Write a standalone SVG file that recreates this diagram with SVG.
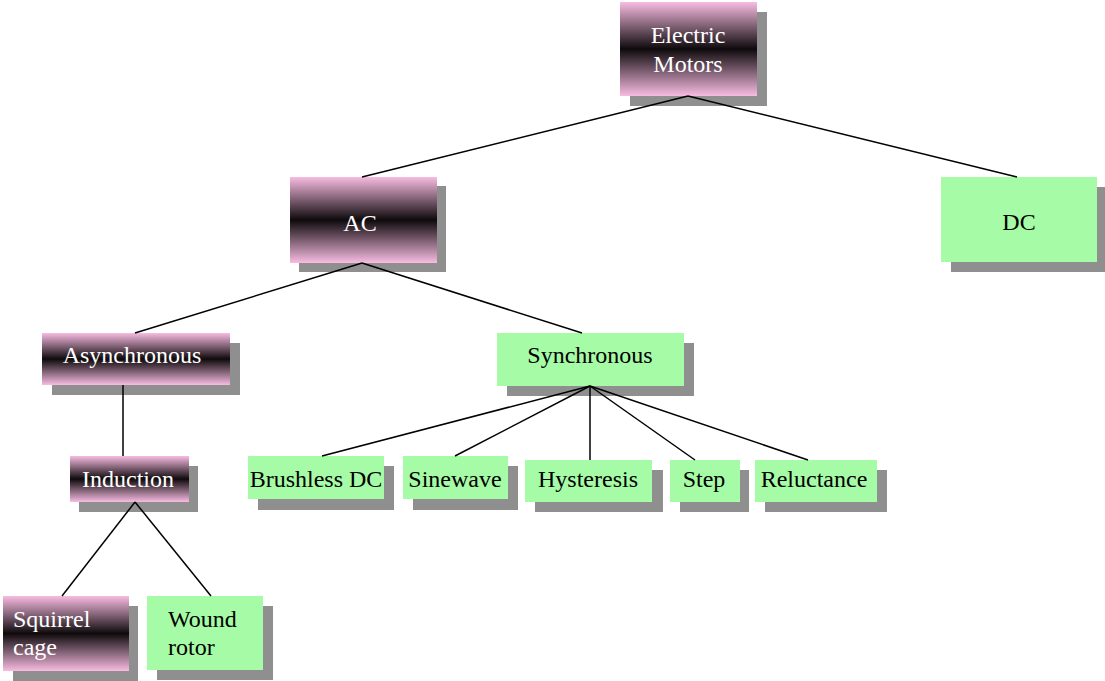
<svg xmlns="http://www.w3.org/2000/svg" width="1105" height="681" viewBox="0 0 1105 681" font-family="'Liberation Serif', 'Times New Roman', Times, serif" font-size="24">
<defs>
<linearGradient id="pk" x1="0" y1="0" x2="0" y2="1">
<stop offset="0" stop-color="#f8bce2"/>
<stop offset="0.5" stop-color="#0e0a0c"/>
<stop offset="1" stop-color="#f8bce2"/>
</linearGradient>
</defs>
<style>
.sh{fill:#8f8f8f}
.pk{fill:url(#pk)}
.gr{fill:#a6fca6}
.w{fill:#ffffff}
.b{fill:#000000}
.c{text-anchor:middle}
#connectors line{stroke:#000;stroke-width:1.5}
</style>
<rect width="1105" height="681" fill="#ffffff"/>
<g id="electric-motors">
<rect class="sh" x="630" y="12" width="137" height="94"/>
<rect class="pk" x="620" y="2" width="137" height="94"/>
<text class="w c" x="688" y="43">Electric</text>
<text class="w c" x="688" y="72">Motors</text>
</g>
<g id="ac">
<rect class="sh" x="299" y="186" width="147" height="86"/>
<rect class="pk" x="290" y="177" width="147" height="86"/>
<text class="w c" x="360" y="231">AC</text>
</g>
<g id="dc">
<rect class="sh" x="951" y="187" width="154" height="85"/>
<rect class="gr" x="941" y="177" width="156" height="85"/>
<text class="b c" x="1019" y="230">DC</text>
</g>
<g id="asynchronous">
<rect class="sh" x="52" y="343" width="188" height="52"/>
<rect class="pk" x="42" y="333" width="188" height="52"/>
<text class="w c" x="132" y="363">Asynchronous</text>
</g>
<g id="synchronous">
<rect class="sh" x="507" y="343" width="187" height="53"/>
<rect class="gr" x="497" y="333" width="187" height="53"/>
<text class="b c" x="590" y="363">Synchronous</text>
</g>
<g id="induction">
<rect class="sh" x="79" y="466" width="119" height="46"/>
<rect class="pk" x="70" y="456" width="119" height="46"/>
<text class="w c" x="128" y="487">Induction</text>
</g>
<g id="brushless-dc">
<rect class="sh" x="258" y="466" width="136" height="44"/>
<rect class="gr" x="248" y="456" width="136" height="43"/>
<text class="b c" x="316" y="487">Brushless DC</text>
</g>
<g id="sinewave">
<rect class="sh" x="413" y="466" width="105" height="44"/>
<rect class="gr" x="403" y="456" width="105" height="43"/>
<text class="b c" x="455" y="487">Sinewave</text>
</g>
<g id="hysteresis">
<rect class="sh" x="535" y="470" width="128" height="42"/>
<rect class="gr" x="525" y="460" width="127" height="42"/>
<text class="b c" x="588" y="487">Hysteresis</text>
</g>
<g id="step">
<rect class="sh" x="680" y="470" width="69" height="42"/>
<rect class="gr" x="670" y="460" width="70" height="42"/>
<text class="b c" x="704" y="487">Step</text>
</g>
<g id="reluctance">
<rect class="sh" x="765" y="470" width="122" height="42"/>
<rect class="gr" x="755" y="460" width="122" height="42"/>
<text class="b c" x="814" y="487">Reluctance</text>
</g>
<g id="squirrel-cage">
<rect class="sh" x="13" y="606" width="125" height="75"/>
<rect class="pk" x="3" y="596" width="126" height="75"/>
<text class="w" x="13" y="627">Squirrel</text>
<text class="w" x="13" y="655">cage</text>
</g>
<g id="wound-rotor">
<rect class="sh" x="157" y="606" width="116" height="74"/>
<rect class="gr" x="147" y="596" width="116" height="74"/>
<text class="b" x="168" y="627">Wound</text>
<text class="b" x="168" y="655">rotor</text>
</g>
<g id="connectors">
<line x1="688" y1="96" x2="362" y2="177"/>
<line x1="688" y1="96" x2="1017" y2="177"/>
<line x1="362" y1="263" x2="135" y2="333"/>
<line x1="362" y1="263" x2="582" y2="333"/>
<line x1="123" y1="385" x2="123" y2="456"/>
<line x1="590" y1="386" x2="322" y2="456"/>
<line x1="590" y1="386" x2="455" y2="456"/>
<line x1="590" y1="386" x2="590" y2="460"/>
<line x1="590" y1="386" x2="695" y2="460"/>
<line x1="590" y1="386" x2="808" y2="460"/>
<line x1="135" y1="502" x2="62" y2="596"/>
<line x1="135" y1="502" x2="211" y2="596"/>
</g>
</svg>
